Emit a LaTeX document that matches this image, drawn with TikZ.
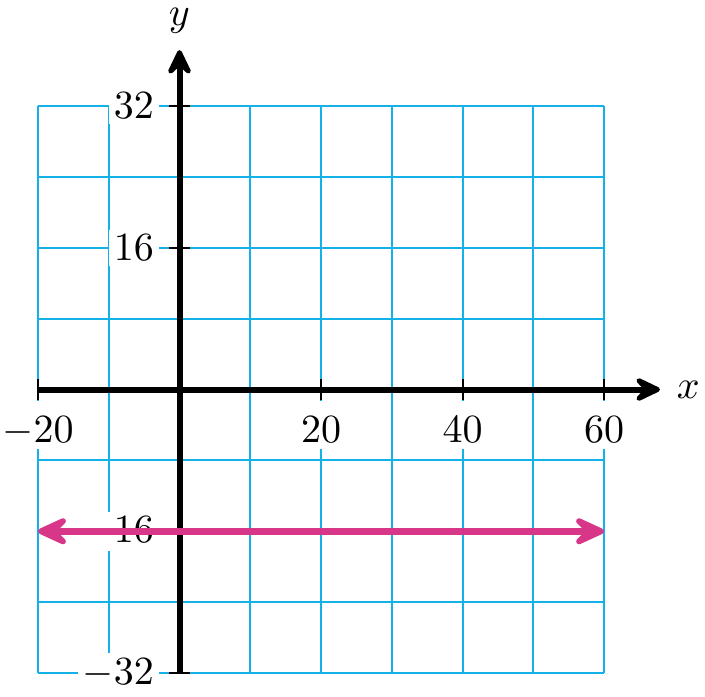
\documentclass[tikz,border=0pt]{standalone}
\usetikzlibrary{arrows.meta}
\definecolor{gridblue}{RGB}{20,176,232}
\definecolor{linepink}{RGB}{216,54,137}
\begin{document}
\begin{tikzpicture}[x=1.76875pt,y=2.215pt,
  gridline/.style={gridblue,line width=0.5pt},
  axisline/.style={black,line width=1.5pt,-{Stealth[length=8.6pt,width=8.2pt,inset=3.8pt,round]}},
  tickline/.style={black,line width=0.5pt},
  ylab/.style={fill=white,inner sep=1.3pt,anchor=east,font=\normalsize},
  xlab/.style={fill=white,inner xsep=1.3pt,inner ysep=1.5pt,text height=9pt,text depth=0pt,anchor=north},
  pinkline/.style={linepink,line width=1.75pt,{Stealth[length=10.5pt,width=9.6pt,inset=4.8pt,round]}-{Stealth[length=10.5pt,width=9.6pt,inset=4.8pt,round]}}
]
\useasboundingbox (-25.37,-34.59) rectangle (74.27,43.96);
% grid
\foreach \gx in {-20,-10,...,60} \draw[gridline] (\gx,-32) -- (\gx,32);
\foreach \gy in {-32,-24,...,32} \draw[gridline] (-20,\gy) -- (60,\gy);
% tick labels
\node[ylab] (l32) at (-2.76,32) {$32$};
\node[ylab] (l16) at (-2.76,16) {$16$};
\node[ylab] (lm16) at (-2.76,-16) {$-16$};
\node[ylab] (lm32) at (-2.76,-32) {$-32$};
\node[xlab] (lm20) at (-20,-1.2) {$-20$};
\node[xlab] (l20) at (20,-1.2) {$20$};
\node[xlab] (l40) at (40,-1.2) {$40$};
\node[xlab] (l60) at (60,-1.2) {$60$};
% axes
\coordinate (xs) at (-20,0);
\coordinate (xe) at (67.9,0);
\coordinate (ys) at (0,-32);
\coordinate (ye) at (0,38.3);
\draw[axisline] (xs) -- (xe);
\draw[axisline] (ys) -- (ye);
\node (xl) at (71.9,0) {$x$};
\node (yl) at (0,41.65) {$y$};
% ticks
\foreach \tx in {-20,20,40,60} \draw[tickline] (\tx,-1.2) -- (\tx,1.2);
\foreach \ty in {-32,-16,16,32} \draw[tickline] (-1.5,\ty) -- (1.5,\ty);
% pink line
\coordinate (pa) at (-20,-16);
\coordinate (pb) at (60,-16);
\draw[pinkline] (pa) -- (pb);
\end{tikzpicture}
\end{document}
